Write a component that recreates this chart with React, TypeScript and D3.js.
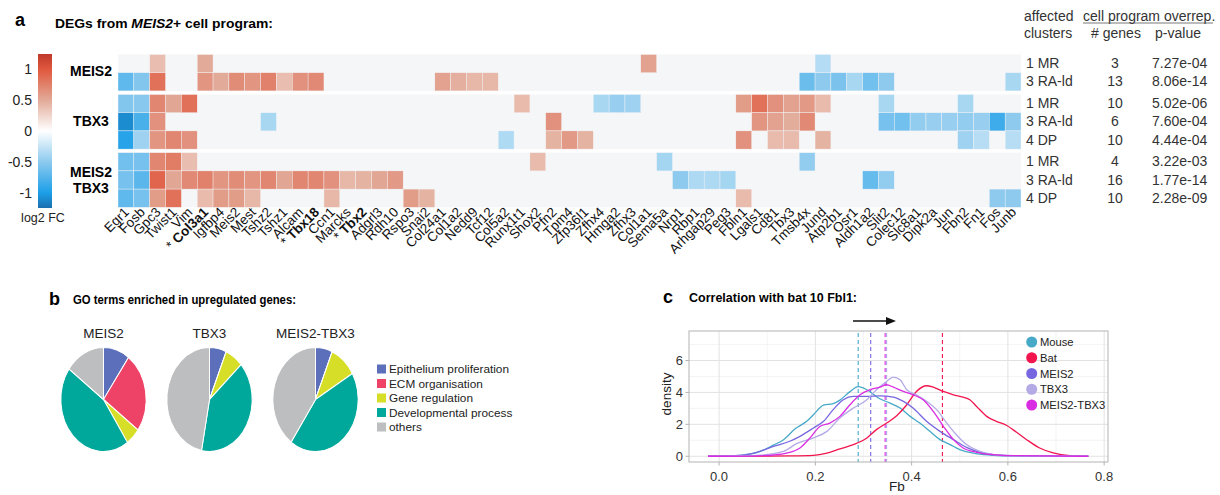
import React from 'react';
import * as d3 from 'd3';

// ---- panel a: heatmap data ----
const genes = ['Egr1', 'Fosb', 'Gpc3', 'Twist1', 'Vim', 'Col3a1', 'Igfbp4', 'Meis2', 'Mest', 'Tshz2',
  'Tshz1', 'Alcam', 'Tbx18', 'Ccn1', 'Marcks', 'Tbx2', 'Adgrl3', 'Rdh10', 'Rspo3', 'Snai2',
  'Col24a1', 'Col1a2', 'Nedd9', 'Tcf12', 'Col5a2', 'Runx1t1', 'Shox2', 'Pfn2', 'Tpm4', 'Zfp36l1',
  'Zfhx4', 'Hmga2', 'Zfhx3', 'Col1a1', 'Sema5a', 'Nrp1', 'Rbp1', 'Arhgap29', 'Peg3', 'Fbln1',
  'Lgals1', 'Cd81', 'Tbx3', 'Tmsb4x', 'Jund', 'Atp2b1', 'Osr1', 'Aldh1a2', 'Slit2', 'Colec12',
  'Slc8a1', 'Dipk2a', 'Jun', 'Fbn2', 'Fn1', 'Fos', 'Junb'];
const starredGenes = ['Col3a1', 'Tbx18', 'Tbx2'];

// log2 FC per gene, 0 = not significant
const meis2MR = [0, 0, 0.38, 0, 0, 0.5, 0, 0, 0, 0,
  0, 0, 0, 0, 0, 0, 0, 0, 0, 0,
  0, 0, 0, 0, 0, 0, 0, 0, 0, 0,
  0, 0, 0, 0.55, 0, 0, 0, 0, 0, 0,
  0, 0, 0, 0, -0.33, 0, 0, 0, 0, 0,
  0, 0, 0, 0, 0, 0, 0];
const meis2RA = [-0.7, -0.55, 0.85, 0, 0, 0.62, 0.5, 0.68, 0.62, 0.75,
  0.38, 0.65, 0.7, 0, 0, 0, 0, 0, 0, 0,
  0.55, 0.47, 0.42, 0.42, 0, 0, 0, 0, 0, 0,
  0, 0, 0, 0, 0, 0, 0, 0, 0, 0,
  0, 0, 0, -0.65, -0.5, -0.58, -0.38, -0.62, -0.5, 0,
  0, 0, 0, 0, 0, 0, -0.38];
const tbx3MR = [-0.55, -0.52, 0.72, 0.52, 0.85, 0, 0, 0, 0, 0,
  0, 0, 0, 0, 0, 0, 0, 0, 0, 0,
  0, 0, 0, 0, 0, 0.4, 0, 0, 0, 0,
  -0.38, -0.45, -0.42, 0, 0, 0, 0, 0, 0, 0.58,
  0.85, 0.65, 0.55, 0.6, 0.4, 0, 0, 0, -0.38, 0,
  0, 0, 0, -0.38, 0, 0, 0];
const tbx3RA = [-1.1, -0.8, 0.65, 0, 0, 0, 0, 0, 0, -0.38,
  0, 0, 0, 0, 0, 0, 0, 0, 0, 0,
  0, 0, 0, 0, 0, 0, 0, 0.65, 0, 0,
  0, 0, 0, 0, 0, 0, 0, 0, 0, 0,
  0.62, 0.55, 0.48, 0.7, 0, 0, 0, 0, -0.6, -0.62,
  -0.48, -0.45, -0.45, -0.48, -0.45, -0.85, -0.5];
const tbx3DP = [-0.95, -0.42, 0.62, 0.72, 0.65, 0, 0, 0, 0, 0,
  0, 0, 0, 0, 0, 0, 0, 0, 0, 0,
  0, 0, 0, 0, -0.35, 0, 0, 0.45, 0.6, 0.45,
  0, 0, 0, 0, 0, 0, 0, 0, 0, 0.65,
  0, 0.4, 0.4, 0, 0.45, 0, 0, 0, 0, 0,
  0, 0, 0, -0.42, -0.32, 0, -0.32];
const bothMR = [-0.62, -0.6, 0.72, 0.78, 0.38, 0, 0, 0, 0, 0,
  0, 0, 0, 0, 0, 0, 0, 0, 0, 0,
  0, 0, 0, 0, 0, 0, 0.4, 0, 0, 0,
  0, 0, 0, 0, -0.4, 0, 0, 0, 0, 0,
  0, 0, 0, -0.48, 0, 0, 0, 0, 0, 0,
  0, 0, 0, 0, 0, 0, 0];
const bothRA = [-0.6, -0.72, 0.92, 0.52, 0.7, 0.75, 0.62, 0.68, 0.62, 0.72,
  0.52, 0.72, 0.72, 0.65, 0.42, 0.45, 0.52, 0.6, 0, 0,
  0, 0, 0, 0, 0, 0, 0, 0, 0, 0,
  0, 0, 0, 0, 0, -0.5, -0.36, -0.36, -0.4, 0,
  0, 0, 0, 0, 0, 0, 0, -0.68, -0.48, 0,
  0, 0, 0, 0, 0, 0, 0];
const bothDP = [-0.7, -0.6, 0.58, 0.85, 0, 0.4, 0.58, 0.58, 0.42, 0,
  0, 0, 0, 0.42, 0, 0, 0, 0, 0.58, 0.45,
  0, 0, 0, 0, 0, 0, 0, 0, 0, 0,
  0, 0, 0, 0, 0, 0, 0, 0, 0, 0.4,
  0, 0, 0, 0, 0, 0, 0, 0, 0, 0,
  0, 0, 0, 0, 0, -0.5, -0.5];

const heatRows = [meis2MR, meis2RA, tbx3MR, tbx3RA, tbx3DP, bothMR, bothRA, bothDP];
const rowGroup = [0, 0, 1, 1, 1, 2, 2, 2];
const rowClusters = ['1 MR', '3 RA-ld', '1 MR', '3 RA-ld', '4 DP', '1 MR', '3 RA-ld', '4 DP'];
const nGenes = [3, 13, 10, 6, 10, 4, 16, 10];
const pValues = ['7.27e-04', '8.06e-14', '5.02e-06', '7.60e-04', '4.44e-04', '3.22e-03', '1.77e-14', '2.28e-09'];
const fcTicks = [1, 0.5, 0, -0.5, -1];

// ---- panel b: GO pies ----
const goCategories = ['Epithelium proliferation', 'ECM organisation', 'Gene regulation', 'Developmental process', 'others'];
const goColors = ['#5b6fba', '#ee4266', '#d6de28', '#00a89c', '#bdbec0'];
const pieNames = ['MEIS2', 'TBX3', 'MEIS2-TBX3'];
const meis2Go = [10, 25, 5.5, 44.5, 15];
const tbx3Go = [6.4, 0, 6.9, 39.7, 47];
const bothGo = [6.4, 0, 10.3, 43, 40.3];

// ---- panel c: densities ----
const seriesNames = ['Mouse', 'Bat', 'MEIS2', 'TBX3', 'MEIS2-TBX3'];
const seriesColors = ['#46a9c8', '#f2154e', '#7667e0', '#b3aae6', '#d92ce2'];
const seriesMeans = [0.289, 0.464, 0.315, 0.348, 0.345];
const mouseDensity = [[-0.023, 0], [0.02, 0.02], [0.044, 0.06], [0.078, 0.22], [0.113, 0.7], [0.134, 1.04],
  [0.158, 1.72], [0.182, 2.19], [0.196, 2.6], [0.217, 3.2], [0.237, 3.3], [0.251, 3.52], [0.272, 4.05],
  [0.289, 4.36], [0.307, 4.17], [0.331, 3.65], [0.355, 3.33], [0.376, 3.02], [0.397, 2.5], [0.417, 2.08],
  [0.438, 1.56], [0.459, 1.04], [0.48, 0.73], [0.5, 0.42], [0.528, 0.2], [0.563, 0.08], [0.6, 0.03],
  [0.65, 0.01], [0.767, 0]];
const batDensity = [[-0.023, 0], [0.1, 0.01], [0.147, 0.02], [0.196, 0.06], [0.224, 0.2], [0.251, 0.46],
  [0.279, 0.73], [0.307, 1.15], [0.327, 1.67], [0.348, 2.08], [0.369, 2.54], [0.39, 3.23], [0.41, 4.06],
  [0.431, 4.42], [0.445, 4.33], [0.466, 4.06], [0.487, 3.85], [0.507, 3.71], [0.521, 3.54], [0.535, 3.12],
  [0.556, 2.5], [0.576, 2.19], [0.597, 1.94], [0.618, 1.5], [0.639, 1.04], [0.666, 0.52], [0.694, 0.21],
  [0.729, 0.04], [0.767, 0]];
const meis2Density = [[-0.023, 0], [0.044, 0.05], [0.078, 0.25], [0.113, 0.62], [0.147, 0.94], [0.168, 1.25],
  [0.196, 1.77], [0.217, 2.19], [0.237, 2.92], [0.258, 3.54], [0.279, 3.75], [0.307, 3.75], [0.334, 3.79],
  [0.362, 3.71], [0.383, 3.44], [0.403, 3.02], [0.431, 2.19], [0.459, 1.56], [0.487, 1.04], [0.514, 0.56],
  [0.542, 0.25], [0.576, 0.08], [0.632, 0.02], [0.767, 0]];
const tbx3Density = [[-0.023, 0], [0.078, 0.05], [0.134, 0.31], [0.161, 0.79], [0.196, 1.15], [0.224, 1.56],
  [0.251, 2.4], [0.279, 3.02], [0.307, 3.54], [0.327, 4.17], [0.348, 4.69], [0.362, 4.96], [0.376, 4.79],
  [0.39, 4.17], [0.41, 3.85], [0.431, 3.44], [0.452, 2.92], [0.473, 2.08], [0.493, 1.35], [0.514, 0.73],
  [0.542, 0.31], [0.57, 0.1], [0.597, 0.03], [0.767, 0]];
const bothDensity = [[-0.023, 0], [0.08, 0.03], [0.113, 0.08], [0.14, 0.2], [0.168, 0.52], [0.189, 1.15],
  [0.21, 1.88], [0.23, 2.08], [0.251, 2.5], [0.272, 3.23], [0.293, 3.85], [0.314, 4.17], [0.334, 4.33],
  [0.348, 4.48], [0.362, 4.33], [0.383, 4.06], [0.403, 3.85], [0.424, 3.54], [0.445, 2.81], [0.466, 1.88],
  [0.487, 1.04], [0.507, 0.52], [0.535, 0.25], [0.57, 0.1], [0.6, 0.04], [0.767, 0]];

const FONT = 'Arial, "Liberation Sans", Helvetica, sans-serif';

const HeatmapPanel = () => {
  const x = d3.scaleBand().domain(genes).range([118, 1021]);
  const rowH = 18.2;
  const gap = 3.6;
  const rowTop = (i) => 54.5 + i * rowH + rowGroup[i] * gap;
  const color = d3.scaleLinear()
    .domain([-1.25, -1, -0.5, 0, 0.5, 1, 1.25])
    .range(['#1b6fae', '#1c9fe8', '#8dcaee', '#ffffff', '#e2aa98', '#e0583d', '#c0392b'])
    .interpolate(d3.interpolateRgb);
  const cb = d3.scaleLinear().domain([-1.25, 1.25]).range([208, 54]);
  const groups = [[0, 1], [2, 4], [5, 7]];
  const stops = color.domain();

  return (
    <g fontFamily={FONT}>
      <text x={15} y={26} fontSize={18} fontWeight="bold">a</text>
      <text x={55} y={28} fontSize={13} fontWeight="bold" textLength={218} lengthAdjust="spacingAndGlyphs">
        DEGs from <tspan fontStyle="italic">MEIS2</tspan>+ cell program:
      </text>

      {/* colour bar */}
      <defs>
        <linearGradient id="fcGrad" x1="0" y1="1" x2="0" y2="0">
          {stops.map(s => (
            <stop key={s} offset={`${((s + 1.25) / 2.5) * 100}%`} stopColor={color(s)} />
          ))}
        </linearGradient>
      </defs>
      <rect x={38} y={54} width={14} height={154} fill="url(#fcGrad)" />
      {fcTicks.map(t => (
        <text key={t} x={32} y={cb(t)} dy="0.35em" fontSize={14} textAnchor="end" fill="#222">{t}</text>
      ))}
      <text x={43} y={222} fontSize={12.5} textAnchor="middle" fill="#222">log2 FC</text>

      {/* group labels */}
      <g fontSize={14} fontWeight="bold" textAnchor="middle">
        <text x={91} y={76}>MEIS2</text>
        <text x={91} y={126}>TBX3</text>
        <text x={91} y={177}>MEIS2</text>
        <text x={91} y={193}>TBX3</text>
      </g>

      {/* background per group */}
      {groups.map(([a, b], gi) => (
        <rect key={gi} x={118} y={rowTop(a)} width={903} height={rowTop(b) + rowH - rowTop(a)} fill="#f5f6f8" />
      ))}
      {heatRows.map((row, ri) => row.map((v, ci) => v === 0 ? null : (
        <rect key={`${ri}-${ci}`} x={x(genes[ci])} y={rowTop(ri)} width={x.bandwidth()} height={rowH}
          fill={color(v)} stroke="#f5f6f8" strokeWidth={0.4} />
      )))}

      {/* gene labels */}
      {genes.map(g => {
        const cx = x(g) + x.bandwidth() / 2 + 4;
        const starred = starredGenes.includes(g);
        return (
          <text key={g} transform={`translate(${cx},213) rotate(-45)`} textAnchor="end" fontSize={13.5} fill="#111">
            {starred ? <><tspan>* </tspan><tspan fontWeight="bold">{g}</tspan></> : g}
          </text>
        );
      })}

      {/* right annotations */}
      <g fontSize={14} fill="#333">
        <text x={1024} y={20.5}>affected</text>
        <text x={1024} y={37.5}>clusters</text>
        <text x={1083} y={20.5}>cell program overrep.</text>
        <line x1={1083} x2={1213} y1={23} y2={23} stroke="#555" strokeWidth={0.8} />
        <text x={1116} y={37.5} textAnchor="middle"># genes</text>
        <text x={1178} y={37.5} textAnchor="middle">p-value</text>
        {rowClusters.map((c, i) => (
          <g key={i}>
            <text x={1026} y={rowTop(i) + rowH / 2 + 4.5}>{c}</text>
            <text x={1115} y={rowTop(i) + rowH / 2 + 4.5} textAnchor="middle">{nGenes[i]}</text>
            <text x={1152} y={rowTop(i) + rowH / 2 + 4.5}>{pValues[i]}</text>
          </g>
        ))}
      </g>
    </g>
  );
};

const PiePanel = () => {
  const pie = d3.pie().sort(null).value(d => d);
  const arc = d3.arc().innerRadius(0).outerRadius(52);
  const pieData = [meis2Go, tbx3Go, bothGo];
  const centers = d3.scalePoint().domain(pieNames).range([103.5, 315.5]);
  const legendY = d3.scalePoint().domain(goCategories).range([369, 427]);

  return (
    <g fontFamily={FONT}>
      <text x={49} y={305} fontSize={18} fontWeight="bold">b</text>
      <text x={73} y={304} fontSize={13} fontWeight="bold" textLength={223} lengthAdjust="spacingAndGlyphs">
        GO terms enriched in upregulated genes:
      </text>
      {pieNames.map((name, pi) => (
        <g key={name}>
          <text x={centers(name)} y={338} fontSize={13.5} textAnchor="middle" fill="#222">{name}</text>
          <g transform={`translate(${centers(name)},399.5) scale(0.82,1)`}>
            {pie(pieData[pi]).map((s, si) => (
              <path key={si} d={arc(s)} fill={goColors[si]} stroke="#fff" strokeWidth={1.2} />
            ))}
          </g>
        </g>
      ))}
      {goCategories.map((c, i) => (
        <g key={c}>
          <rect x={377} y={legendY(c) - 4.5} width={9} height={9} fill={goColors[i]} />
          <text x={389} y={legendY(c) + 4} fontSize={11.8} fill="#222">{c}</text>
        </g>
      ))}
    </g>
  );
};

const DensityPanel = () => {
  const x = d3.scaleLinear().domain([-0.0625, 0.808]).range([689, 1108]);
  const y = d3.scaleLinear().domain([-0.36, 7.85]).range([462, 331]);
  const line = d3.line().x(d => x(d[0])).y(d => y(d[1])).curve(d3.curveMonotoneX);
  const curves = [mouseDensity, batDensity, meis2Density, tbx3Density, bothDensity];
  const legendY = d3.scalePoint().domain(seriesNames).range([342, 405]);
  const xMajor = [0, 0.2, 0.4, 0.6, 0.8];
  const xMinor = [0.1, 0.3, 0.5, 0.7];
  const yMajor = [0, 2, 4, 6];
  const yMinor = [1, 3, 5, 7];

  return (
    <g fontFamily={FONT}>
      <text x={663} y={303} fontSize={18} fontWeight="bold">c</text>
      <text x={689} y={302} fontSize={13} fontWeight="bold" textLength={168} lengthAdjust="spacingAndGlyphs">
        Correlation with bat 10 Fbl1:
      </text>
      <line x1={853} x2={888} y1={321} y2={321} stroke="#111" strokeWidth={1.4} />
      <path d="M886,317 L896,321 L886,325 Z" fill="#111" />

      {xMinor.map(v => <line key={`xm${v}`} x1={x(v)} x2={x(v)} y1={331} y2={462} stroke="#efefef" strokeWidth={0.7} />)}
      {yMinor.map(v => <line key={`ym${v}`} x1={689} x2={1108} y1={y(v)} y2={y(v)} stroke="#efefef" strokeWidth={0.7} />)}
      {xMajor.map(v => <line key={`xM${v}`} x1={x(v)} x2={x(v)} y1={331} y2={462} stroke="#e2e2e2" strokeWidth={1} />)}
      {yMajor.map(v => <line key={`yM${v}`} x1={689} x2={1108} y1={y(v)} y2={y(v)} stroke="#e2e2e2" strokeWidth={1} />)}

      {seriesMeans.map((m, i) => (
        <line key={`mean${i}`} x1={x(m)} x2={x(m)} y1={333} y2={462} stroke={seriesColors[i]}
          strokeWidth={1.1} strokeDasharray="4,3" />
      ))}
      {curves.map((c, i) => (
        <path key={seriesNames[i]} d={line(c)} fill="none" stroke={seriesColors[i]} strokeWidth={1.3} />
      ))}

      <rect x={689} y={331} width={419} height={131} fill="none" stroke="#b3b3b3" strokeWidth={1} />
      {xMajor.map(v => (
        <g key={`xt${v}`}>
          <line x1={x(v)} x2={x(v)} y1={462} y2={465.5} stroke="#b3b3b3" />
          <text x={x(v)} y={481} fontSize={13} textAnchor="middle" fill="#333">{v.toFixed(1)}</text>
        </g>
      ))}
      {yMajor.map(v => (
        <g key={`yt${v}`}>
          <line x1={685.5} x2={689} y1={y(v)} y2={y(v)} stroke="#b3b3b3" />
          <text x={683} y={y(v)} dy="0.35em" fontSize={13} textAnchor="end" fill="#333">{v}</text>
        </g>
      ))}
      <text transform="translate(671,394) rotate(-90)" fontSize={13.5} textAnchor="middle" fill="#222">density</text>
      <text x={897} y={491} fontSize={13.5} textAnchor="middle" fill="#222">Fb</text>

      {seriesNames.map((s, i) => (
        <g key={s}>
          <circle cx={1031.7} cy={legendY(s)} r={5.5} fill={seriesColors[i]} />
          <text x={1040} y={legendY(s) + 4} fontSize={11.2} fill="#222">{s}</text>
        </g>
      ))}
    </g>
  );
};

const App = () => (
  <svg width={1220} height={495} style={{ position: 'absolute', left: 0, top: 0, background: '#fff' }}>
    <rect width={1220} height={495} fill="#fff" />
    <HeatmapPanel />
    <PiePanel />
    <DensityPanel />
  </svg>
);

export default App;
